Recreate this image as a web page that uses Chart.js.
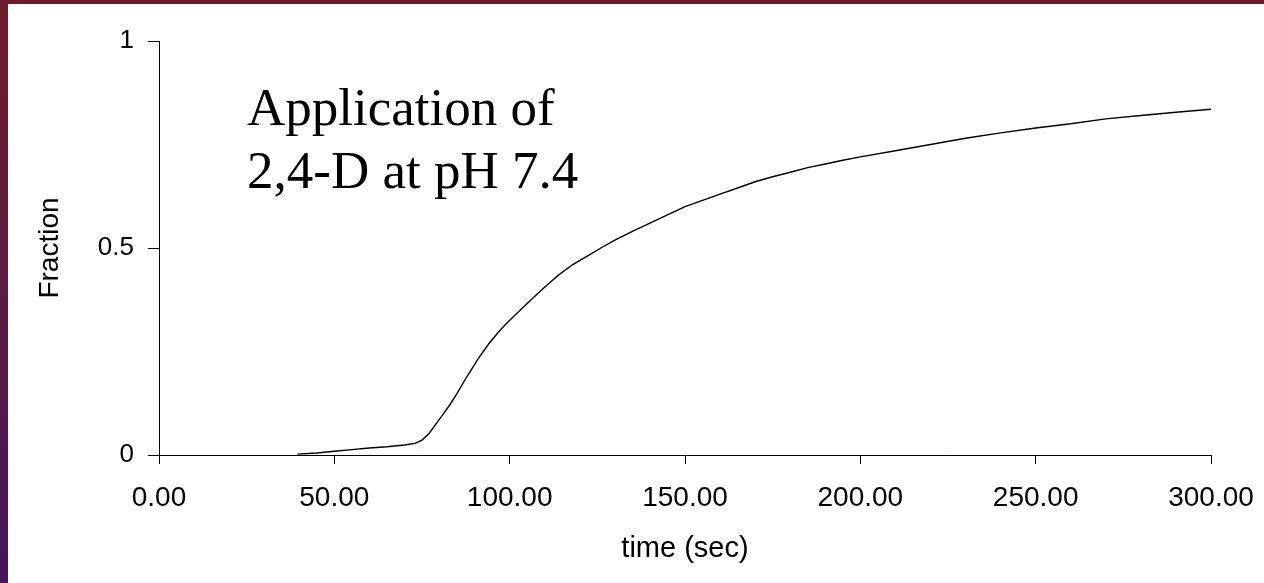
<!DOCTYPE html>
<html>
<head>
<meta charset="utf-8">
<script src="https://cdn.jsdelivr.net/npm/chart.js@4/dist/chart.umd.min.js"></script>
<style>
  html, body { margin: 0; padding: 0; }
  body {
    width: 1264px; height: 583px; overflow: hidden; position: relative;
    background: linear-gradient(to bottom, #6b1d2b 0%, #5a1c40 50%, #42165a 100%);
  }
  #panel {
    position: absolute; left: 8px; top: 4px; width: 1256px; height: 579px;
    background: #ffffff;
  }
  #chart { position: absolute; left: 0; top: 0; }
  #note {
    position: absolute; left: 239px; top: 72px;
    font-family: "Liberation Serif", "Times New Roman", serif;
    font-size: 53px; line-height: 63px; color: #000;
    white-space: nowrap;
  }
</style>
</head>
<body>
<div id="panel">
  <canvas id="chart" width="1256" height="579"></canvas>
  <div id="note">Application of<br>2,4-D at pH 7.4</div>
</div>
<script>
// Elapsed time (s) and measured fraction
const timeSec = [39.5, 45, 50, 55, 60, 65, 70, 73, 75, 77, 79, 81, 83, 85, 88, 91, 94, 97, 99,
  102, 105, 108, 111, 114, 118, 122, 126, 130, 135, 140, 145, 150, 155, 160, 165, 170, 175,
  180, 185, 190, 195, 200, 210, 220, 230, 240, 250, 260, 270, 280, 290, 300];
const fraction = [0.002, 0.005, 0.009, 0.013, 0.017, 0.020, 0.024, 0.028, 0.036, 0.052, 0.075,
  0.098, 0.122, 0.149, 0.192, 0.232, 0.268, 0.299, 0.317, 0.342, 0.366, 0.390, 0.413, 0.435,
  0.460, 0.480, 0.500, 0.519, 0.540, 0.560, 0.580, 0.600, 0.615, 0.630, 0.645, 0.660, 0.672,
  0.683, 0.694, 0.703, 0.712, 0.720, 0.735, 0.750, 0.765, 0.778, 0.790, 0.800, 0.812, 0.820,
  0.828, 0.835];

// Axis tick values
const xTicks = [0, 50, 100, 150, 200, 250, 300];
const yTicks = [0, 0.5, 1];

const points = timeSec.map((t, i) => ({ x: t, y: fraction[i] }));

Chart.defaults.color = '#000';
Chart.defaults.font.family = '"Liberation Sans", Arial, sans-serif';

new Chart(document.getElementById('chart'), {
  type: 'line',
  data: {
    datasets: [{
      data: points,
      borderColor: '#000',
      borderWidth: 1.4,
      pointRadius: 0,
      tension: 0,
      fill: false
    }]
  },
  options: {
    responsive: false,
    animation: false,
    events: [],
    layout: { padding: { left: 0, right: 53, top: 37, bottom: 0 } },
    plugins: { legend: { display: false }, tooltip: { enabled: false } },
    scales: {
      x: {
        type: 'linear',
        min: 0, max: 300,
        afterBuildTicks: s => { s.ticks = xTicks.map(v => ({ value: v })); },
        afterFit: s => { s.height = 128; s.paddingLeft = 0; s.paddingRight = 0; },
        grid: { drawOnChartArea: false, drawTicks: true, tickLength: 9, tickColor: '#000', tickWidth: 1 },
        border: { color: '#000', width: 1 },
        ticks: {
          font: { size: 28 },
          padding: 17,
          maxRotation: 0,
          callback: v => Number(v).toFixed(2)
        },
        title: {
          display: true,
          text: 'time (sec)',
          font: { size: 29 },
          padding: { top: 0, bottom: 17 }
        }
      },
      y: {
        type: 'linear',
        min: 0, max: 1,
        afterBuildTicks: s => { s.ticks = yTicks.map(v => ({ value: v })); },
        afterFit: s => { s.width = 151; s.paddingTop = 0; s.paddingBottom = 0; },
        grid: { drawOnChartArea: false, drawTicks: true, tickLength: 11, tickColor: '#000', tickWidth: 1 },
        border: { color: '#000', width: 1 },
        ticks: {
          font: { size: 26 },
          padding: 14,
          callback: v => String(v)
        },
        title: {
          display: true,
          text: 'Fraction',
          font: { size: 28 },
          padding: { top: 25, bottom: 0 }
        }
      }
    }
  }
});
</script>
</body>
</html>
